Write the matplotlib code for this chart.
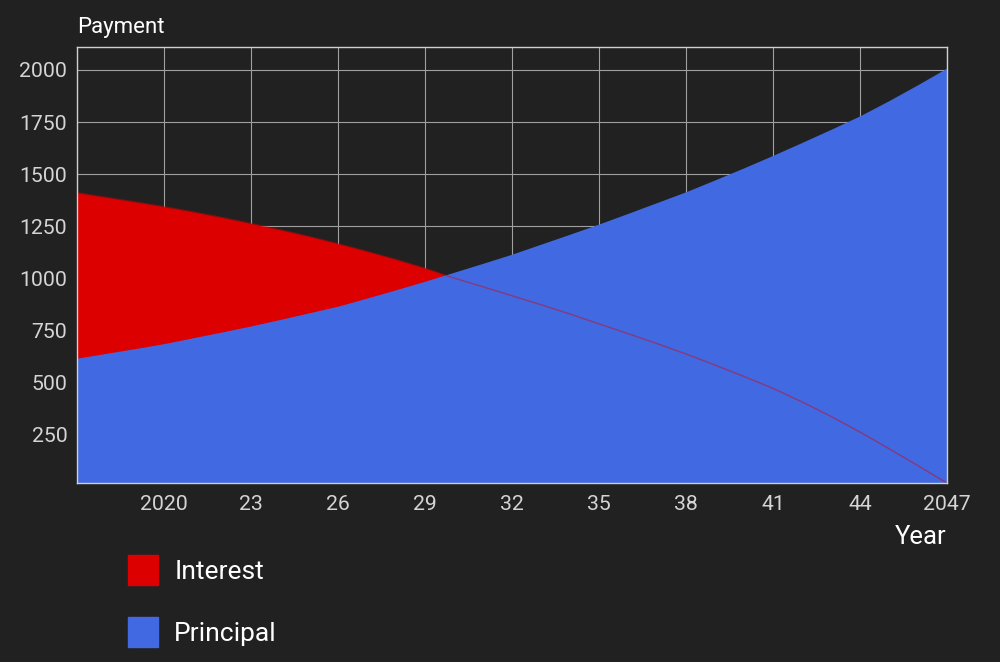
import numpy as np
import matplotlib.pyplot as plt
from matplotlib.patches import Patch

years = list(range(2017, 2048))
interest = [1410, 1388, 1366, 1343, 1318, 1291, 1262, 1232, 1200, 1165,
            1128, 1089, 1047, 1000, 958, 915, 872, 827, 780, 733,
            685, 635, 582, 527, 470, 405, 335, 260, 180, 98, 15]
principal = [615, 638, 661, 685, 713, 741, 770, 801, 833, 865,
             904, 944, 985, 1028, 1071, 1115, 1163, 1211, 1260, 1311,
             1363, 1415, 1472, 1530, 1590, 1652, 1715, 1780, 1853, 1930, 2010]
series_names = ['Interest', 'Principal']
xticks = [2020, 2023, 2026, 2029, 2032, 2035, 2038, 2041, 2044, 2047]
xtick_labels = ['2020', '23', '26', '29', '32', '35', '38', '41', '44', '2047']
yticks = [250, 500, 750, 1000, 1250, 1500, 1750, 2000]

bg = '#212121'
red = '#dd0000'
blue = '#4169e1'

plt.rcParams['font.family'] = ['Roboto', 'DejaVu Sans']

fig = plt.figure(figsize=(10, 6.62), dpi=100, facecolor=bg)
ax = fig.add_axes([0.077, 0.2704, 0.87, 0.6586], facecolor=bg)

ax.fill_between(years, 0, interest, color=red, lw=0, zorder=2)
ax.fill_between(years, 0, principal, color=blue, lw=0, zorder=3)
ax.plot(years, interest, color=red, lw=1, alpha=0.45, zorder=4)

ax.set_xlim(2017, 2047)
ax.set_ylim(min(interest), max(principal) * 1.05)
ax.set_xticks(xticks)
ax.set_xticklabels(xtick_labels)
ax.set_yticks(yticks)
ax.tick_params(axis='both', length=0, labelsize=15.3, colors='#d4d4d4')
ax.tick_params(axis='x', pad=9)
ax.tick_params(axis='y', pad=7)
ax.grid(True, color='#a0a0a0', lw=0.8, zorder=0)
ax.set_axisbelow(True)
for s in ax.spines.values():
    s.set_color('#d0d0d0')
    s.set_linewidth(1)
    s.set_zorder(5)

fig.text(0.077, 1 - 27 / 662, 'Payment', color='white', fontsize=16,
         ha='left', va='center')
fig.text(0.947, 1 - 537 / 662, 'Year', color='white', fontsize=18.5,
         ha='right', va='center')

handles = [Patch(color=red), Patch(color=blue)]
leg = fig.legend(handles, series_names, loc='upper left',
                 bbox_to_anchor=(0.128, 1 - 555 / 662), frameon=False,
                 fontsize=19, handlelength=1.15, handleheight=1.35,
                 handletextpad=0.6, labelspacing=1.24, borderpad=0,
                 borderaxespad=0)
for t in leg.get_texts():
    t.set_color('white')

plt.savefig('out.png', dpi=100, facecolor=bg)
